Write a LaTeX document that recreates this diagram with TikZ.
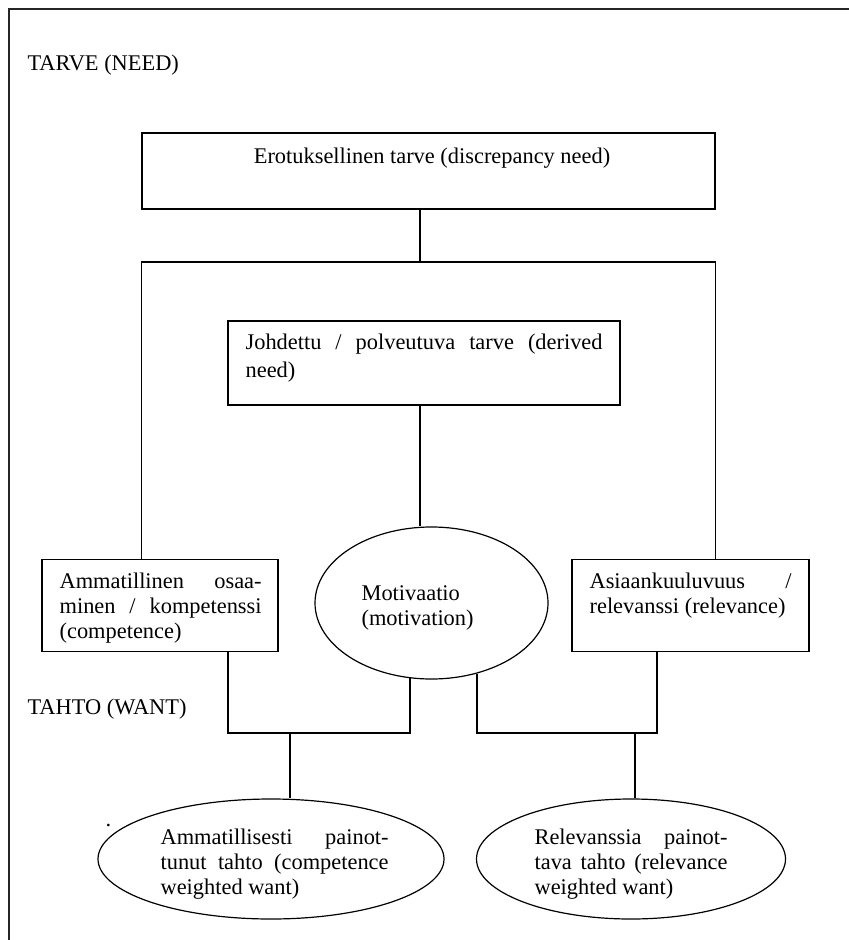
\documentclass[tikz,border=0pt]{standalone}
\usepackage{fontspec}
\setmainfont{Liberation Serif}
\usetikzlibrary{shapes.geometric}
% one justified line of a given width
\newcommand\jline[1]{\makebox[\linewidth][s]{#1}}
\begin{document}
\begin{tikzpicture}[x=0.5pt,y=-0.5pt,
  line width=0.6pt,
  box/.style={draw, rectangle, inner sep=0pt},
  oval/.style={draw, ellipse, inner sep=0pt},
  txt/.style={inner sep=0pt, anchor=base west, font=\fontsize{11.2pt}{12.5pt}\selectfont},
  ]
\useasboundingbox (0,0) rectangle (849,940);
\clip (0,0) rectangle (849,940);

% outer frame
\draw[black!85] (9,980) -- (9,9) -- (880,9);

% shapes
\node[box, minimum width=286.5pt, minimum height=38pt] (disc) at (428.5,171) {};
\node[box, minimum width=196pt, minimum height=42pt] (deriv) at (424,363) {};
\node[box, minimum width=118pt, minimum height=46pt] (comp) at (160,605.5) {};
\node[box, minimum width=118.5pt, minimum height=46pt] (relv) at (690.5,605.5) {};
\node[oval, minimum width=116.5pt, minimum height=76pt] (motiv) at (431.5,603) {};
\node[oval, minimum width=173pt, minimum height=60pt] (cww) at (271,859) {};
\node[oval, minimum width=154.5pt, minimum height=60pt] (rww) at (631,859) {};

% texts
\node[txt] (need) at (27,71) {TARVE (NEED)};
\node[txt] (want) at (27,714) {TAHTO (WANT)};
\node[txt, anchor=base] (disct) at (432,164) {Erotuksellinen tarve (discrepancy need)};
\node[txt] (derivt) at (245,350) {\parbox[t]{178.5pt}{\baselineskip=13.75pt
  \jline{Johdettu / polveutuva tarve (derived}\\need)}};
\node[txt] (compt) at (59,588) {\parbox[t]{101pt}{%
  \jline{Ammatillinen osaa-}\\\jline{minen / kompetenssi}\\(competence)}};
\node[txt] (relvt) at (589,588) {\parbox[t]{101pt}{%
  \jline{Asiaankuuluvuus /}\\relevanssi (relevance)}};
\node[txt] (motivt) at (361,600) {\parbox[t]{100pt}{Motivaatio\\(motivation)}};
\node[txt] (cwwt) at (160,844) {\parbox[t]{114pt}{%
  \jline{Ammatillisesti painot-}\\\jline{tunut tahto (competence}\\weighted want)}};
\node[txt] (rwwt) at (534,844) {\parbox[t]{96.5pt}{%
  \jline{Relevanssia painot-}\\\jline{tava tahto (relevance}\\weighted want)}};
\node[txt] (dot) at (105,826) {.};

% connectors
\coordinate (split) at (420,262);
\draw (disc.south -| split) -- (split);
\draw (comp.north -| disc.west) |- (split) -| (relv.north -| disc.east);
\draw (deriv.south -| split) -- (motiv.north -| split);

\coordinate (compleg) at (228,733);
\coordinate (motleg) at (410,733);
\coordinate (cwwjoin) at (290,733);
\draw (comp.south -| compleg) -- (compleg) -- (motleg) -- (motleg |- motiv.-106);
\draw (cwwjoin) -- (cww.north -| cwwjoin);

\coordinate (motreg) at (477,733);
\coordinate (relleg) at (657,733);
\coordinate (rwwjoin) at (635,733);
\draw (motreg |- motiv.-57) -- (motreg) -- (relleg) -- (relv.south -| relleg);
\draw (rwwjoin) -- (rww.north -| rwwjoin);
\end{tikzpicture}
\end{document}
